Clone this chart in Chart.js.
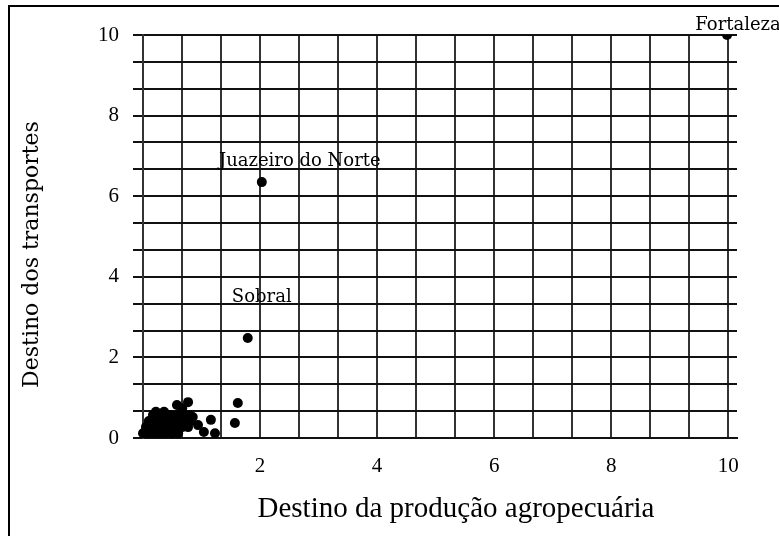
<!DOCTYPE html>
<html>
<head>
<meta charset="utf-8">
<script src="https://cdn.jsdelivr.net/npm/chart.js@4/dist/chart.umd.min.js"></script>
<style>
  html, body { margin: 0; padding: 0; background: #fff; }
  #frame { position: absolute; left: 8px; top: 5px; width: 900px; height: 700px; border-left: 2px solid #000; border-top: 2px solid #000; }
  #chart { position: absolute; left: 0; top: 0; }
</style>
</head>
<body>
<div id="frame"></div>
<canvas id="chart" width="779" height="536"></canvas>
<script>
// named cities
const cityNames = ['Fortaleza', 'Juazeiro do Norte', 'Sobral'];
const cityX = [9.98, 2.03, 1.79];
const cityY = [10, 6.35, 2.48];

// the other municipalities (cluster near the origin)
const otherX = [
  0.0, 0.09, 0.19, 0.29, 0.39, 0.50, 0.60,
  0.05, 0.15, 0.26, 0.36, 0.46, 0.56, 0.67, 0.77,
  0.10, 0.21, 0.31, 0.41, 0.51, 0.62, 0.72, 0.82,
  0.17, 0.27, 0.38, 0.48, 0.58, 0.68, 0.79,
  0.22, 0.36, 0.58, 0.77, 0.67,
  0.85, 0.94, 1.04, 1.23, 1.16, 1.57, 1.62];
const otherY = [
  0.12, 0.12, 0.12, 0.12, 0.12, 0.12, 0.12,
  0.27, 0.27, 0.27, 0.27, 0.27, 0.27, 0.27, 0.27,
  0.42, 0.42, 0.42, 0.42, 0.42, 0.42, 0.42, 0.42,
  0.57, 0.57, 0.57, 0.57, 0.57, 0.57, 0.57,
  0.65, 0.65, 0.82, 0.89, 0.74,
  0.52, 0.32, 0.15, 0.12, 0.45, 0.37, 0.87];

// grid every 2/3, labels on the even numbers
const gridValues = [0, 0.6667, 1.3333, 2, 2.6667, 3.3333, 4, 4.6667, 5.3333, 6, 6.6667, 7.3333, 8, 8.6667, 9.3333, 10];
const xTickLabels = [2, 4, 6, 8, 10];
const yTickLabels = [0, 2, 4, 6, 8, 10];
const xTitle = 'Destino da produção agropecuária';
const yTitle = 'Destino dos transportes';

const toPoints = (xs, ys) => xs.map((x, i) => ({ x, y: ys[i] }));
const useGrid = scale => { scale.ticks = gridValues.map(v => ({ value: v })); };
const labelFor = list => v => list.some(t => Math.abs(t - v) < 0.01) ? String(Math.round(v)) : '';

// city names next to their points + the two axis titles
const textLayer = {
  id: 'textLayer',
  afterDatasetsDraw(chart) {
    const { ctx, chartArea: a } = chart;
    const meta = chart.getDatasetMeta(0);
    const offsets = [[11, -5], [38, -16], [14, -36]];
    ctx.save();
    ctx.fillStyle = '#000';
    ctx.font = '18px "DejaVu Serif"';
    ctx.textAlign = 'center';
    ctx.textBaseline = 'alphabetic';
    cityNames.forEach((name, i) => {
      const pt = meta.data[i];
      ctx.fillText(name, pt.x + offsets[i][0], pt.y + offsets[i][1]);
    });

    ctx.textBaseline = 'middle';
    ctx.font = '29px "Liberation Serif"';
    ctx.fillText(xTitle, (a.left + a.right) / 2 + 16, 509);

    ctx.translate(32, (a.top + a.bottom) / 2 + 18);
    ctx.rotate(-Math.PI / 2);
    ctx.font = '22px "DejaVu Serif"';
    ctx.fillText(yTitle, 0, 0);
    ctx.restore();
  },
};

const tickFont = { family: '"Liberation Serif"', size: 21 };
const dotStyle = { backgroundColor: '#000', borderWidth: 0, pointRadius: 5, clip: { left: 8, top: 0, right: 8, bottom: 0 } };

new Chart(document.getElementById('chart').getContext('2d'), {
  type: 'scatter',
  data: {
    datasets: [
      { label: 'Cidades', data: toPoints(cityX, cityY), ...dotStyle },
      { label: 'Outros', data: toPoints(otherX, otherY), ...dotStyle },
    ],
  },
  options: {
    responsive: false,
    animation: false,
    layout: { padding: { top: 35, right: 42, left: 0, bottom: 0 } },
    plugins: { legend: { display: false }, tooltip: { enabled: false } },
    scales: {
      x: {
        type: 'linear',
        min: 0,
        max: 10.15,
        afterBuildTicks: useGrid,
        afterFit: s => { s.height = 98; },
        grid: { color: '#333', lineWidth: 2, drawTicks: false },
        border: { color: '#111', width: 2 },
        ticks: { color: '#000', font: tickFont, padding: 16, maxRotation: 0, autoSkip: false, callback: labelFor(xTickLabels) },
      },
      y: {
        type: 'linear',
        min: 0,
        max: 10,
        afterBuildTicks: useGrid,
        afterFit: s => { s.width = 143; },
        grid: { color: '#111', lineWidth: 2, tickLength: 10 },
        border: { color: '#333', width: 2 },
        ticks: { color: '#000', font: tickFont, padding: 14, autoSkip: false, callback: labelFor(yTickLabels) },
      },
    },
  },
  plugins: [textLayer],
});
</script>
</body>
</html>
